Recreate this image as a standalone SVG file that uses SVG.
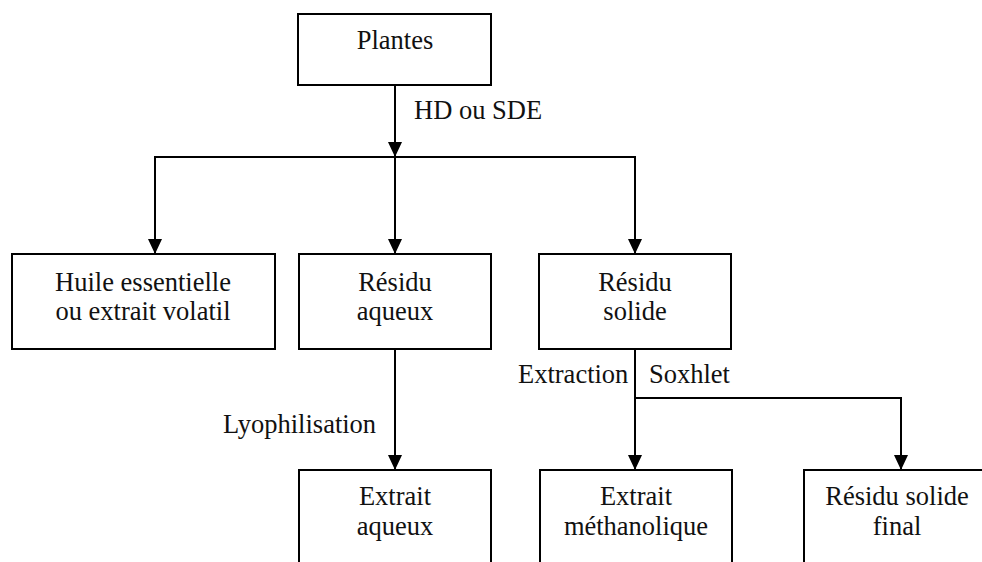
<svg xmlns="http://www.w3.org/2000/svg" width="982" height="562" viewBox="0 0 982 562">
<style>
text{font-family:'Liberation Serif','Times New Roman',Tinos,'DejaVu Serif',serif;font-size:26.5px;fill:#111}
.box{fill:#fff;stroke:#000;stroke-width:2}
.t{text-anchor:middle}
.c{fill:none;stroke:#000;stroke-width:2}
</style>
<defs>
<marker id="ah" viewBox="0 0 15 14" refX="15" refY="7" markerWidth="15" markerHeight="14" markerUnits="userSpaceOnUse" orient="auto">
<path d="M0,0 L15,7 L0,14 z" fill="#000"/>
</marker>
</defs>
<rect width="982" height="562" fill="#fff"/>
<g id="connectors">
<line class="c" x1="395" y1="85" x2="395" y2="157" marker-end="url(#ah)"/>
<line class="c" x1="154" y1="157" x2="636" y2="157"/>
<line class="c" x1="155" y1="157" x2="155" y2="254" marker-end="url(#ah)"/>
<line class="c" x1="395" y1="157" x2="395" y2="254" marker-end="url(#ah)"/>
<line class="c" x1="635" y1="157" x2="635" y2="254" marker-end="url(#ah)"/>
<line class="c" x1="395" y1="349" x2="395" y2="470" marker-end="url(#ah)"/>
<line class="c" x1="635" y1="349" x2="635" y2="470" marker-end="url(#ah)"/>
<polyline class="c" points="635,398 901,398 901,470" marker-end="url(#ah)"/>
<text x="414" y="119" font-family="Liberation Serif, serif">HD ou SDE</text>
<text x="223" y="433" font-family="Liberation Serif, serif">Lyophilisation</text>
<text x="518" y="383" font-family="Liberation Serif, serif">Extraction</text>
<text x="649" y="383" font-family="Liberation Serif, serif">Soxhlet</text>
</g>
<g id="plantes">
<rect class="box" x="298" y="14" width="193" height="71"/>
<text class="t" x="395" y="49">Plantes</text>
</g>
<g id="huile">
<rect class="box" x="12" y="254" width="263" height="95"/>
<text class="t" x="143" y="291">Huile essentielle</text>
<text class="t" x="143" y="320">ou extrait volatil</text>
</g>
<g id="residu-aqueux">
<rect class="box" x="299" y="254" width="192" height="95"/>
<text class="t" x="395" y="291">Résidu</text>
<text class="t" x="395" y="320">aqueux</text>
</g>
<g id="residu-solide">
<rect class="box" x="539" y="254" width="192" height="95"/>
<text class="t" x="635" y="291">Résidu</text>
<text class="t" x="635" y="320">solide</text>
</g>
<g id="extrait-aqueux">
<rect class="box" x="299" y="470" width="192" height="110"/>
<text class="t" x="395" y="505">Extrait</text>
<text class="t" x="395" y="535">aqueux</text>
</g>
<g id="extrait-methanolique">
<rect class="box" x="540" y="470" width="192" height="110"/>
<text class="t" x="636" y="505">Extrait</text>
<text class="t" x="636" y="535">méthanolique</text>
</g>
<g id="residu-final">
<rect class="box" x="804" y="470" width="194" height="110"/>
<text class="t" x="897" y="505">Résidu solide</text>
<text class="t" x="897" y="535">final</text>
</g>
</svg>
